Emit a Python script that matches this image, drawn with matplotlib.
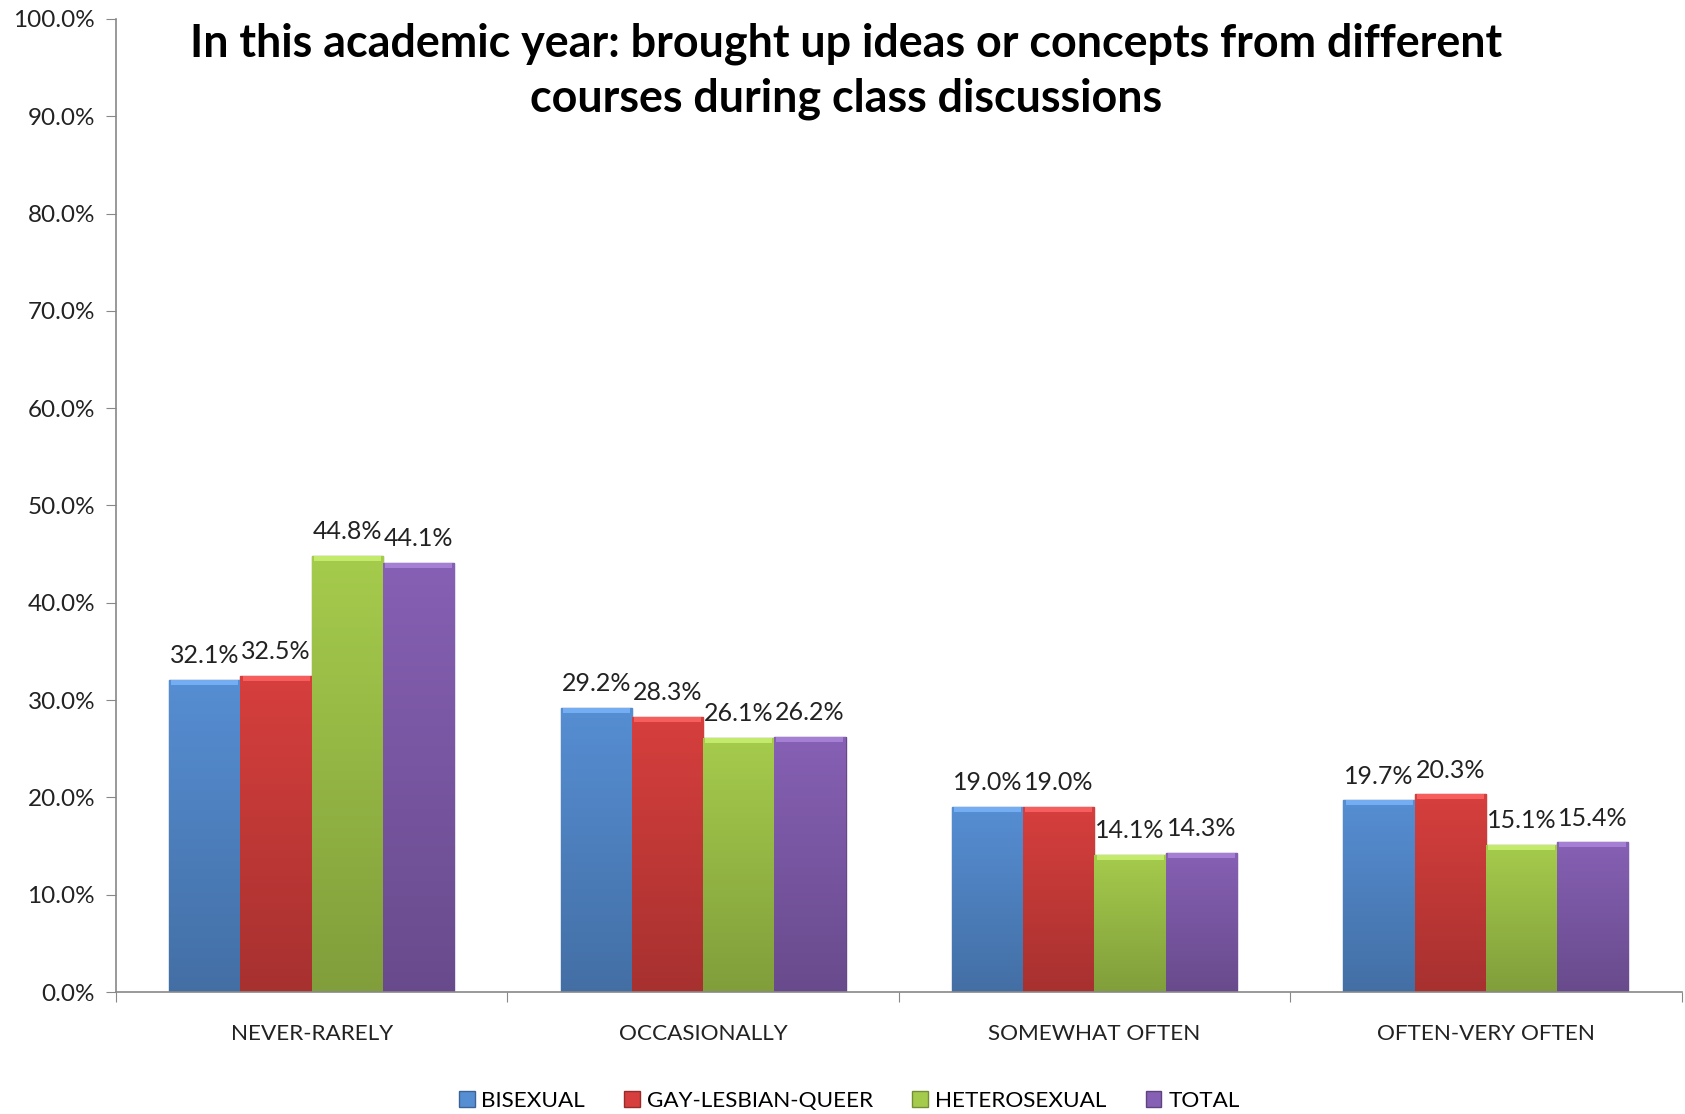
import numpy as np
import matplotlib
matplotlib.use("Agg")
import matplotlib.pyplot as plt
from matplotlib.patches import Patch
from matplotlib.colors import to_rgb

plt.rcParams['font.family'] = ['Lato', 'DejaVu Sans']

categories = ["NEVER-RARELY", "OCCASIONALLY", "SOMEWHAT OFTEN", "OFTEN-VERY OFTEN"]
series = ["BISEXUAL", "GAY-LESBIAN-QUEER", "HETEROSEXUAL", "TOTAL"]
bisexual = [32.1, 29.2, 19.0, 19.7]
gay_lesbian_queer = [32.5, 28.3, 19.0, 20.3]
heterosexual = [44.8, 26.1, 14.1, 15.1]
total = [44.1, 26.2, 14.3, 15.4]
colors = ["#568ED3", "#D63F3D", "#A5CB4C", "#8660B4"]
yticks = np.arange(0, 101, 10)

values = [bisexual, gay_lesbian_queer, heterosexual, total]

fig = plt.figure(figsize=(16.85, 11.14), dpi=100)
ax = fig.add_axes([0.0688, 0.1095, 0.9292, 0.8735])

bw = 0.182
x = np.arange(len(categories)) + 0.5


def darker(c, f):
    r, g, b = to_rgb(c)
    return (r * f, g * f, b * f)


for i, (vals, col) in enumerate(zip(values, colors)):
    pos = x + (i - 1.5) * bw
    bars = ax.bar(pos, vals, width=bw, color=col, edgecolor=darker(col, 0.75),
                  linewidth=1.0, zorder=2)
    for b, v in zip(bars, vals):
        # vertical shading: lighter at top, darker at bottom
        grad = np.linspace(1.0, 0.0, 64).reshape(-1, 1)
        c1 = np.array(to_rgb(col))
        c0 = np.array(darker(col, 0.78))
        img = c0 + (c1 - c0) * grad[..., None]
        im = ax.imshow(img, extent=[b.get_x(), b.get_x() + bw, 0, v],
                       aspect='auto', zorder=2.5, interpolation='bilinear')
        im.set_clip_path(b)
        # top highlight bevel
        ax.bar(b.get_x() + bw / 2, 0.5, bottom=v - 0.5, width=bw * 0.94,
               color=tuple(min(1, c + 0.12) for c in to_rgb(col)),
               linewidth=0, zorder=3)
        ax.text(b.get_x() + bw / 2, v + 1.3, f"{v:.1f}%", ha='center', va='bottom',
                fontsize=18, color="#222222", zorder=4)

ax.set_xlim(0, 4)
ax.set_ylim(0, 100)
ax.set_yticks(yticks)
ax.set_yticklabels([f"{t:.1f}%" for t in yticks], fontsize=17.5, color="#222222")
ax.set_xticks(np.arange(0, 5))
ax.set_xticklabels([])
ax.set_xticks(x, minor=True)
ax.set_xticklabels(categories, minor=True, fontsize=16.2, color="#222222")
ax.tick_params(axis='x', which='minor', length=0, pad=23)
ax.tick_params(axis='x', which='major', length=7, direction='out', color="#888888")
ax.tick_params(axis='y', length=7, direction='out', color="#888888", pad=8)
for s in ['top', 'right']:
    ax.spines[s].set_visible(False)
for s in ['left', 'bottom']:
    ax.spines[s].set_color("#888888")
    ax.spines[s].set_linewidth(1.2)

fig.text(0.502, 0.98, "In this academic year: brought up ideas or concepts from different\ncourses during class discussions",
         ha='center', va='top', fontsize=32.3, fontweight='bold', linespacing=1.38)

handles = [Patch(facecolor=c, edgecolor=darker(c, 0.7)) for c in colors]
fig.legend(handles, series, loc='center', bbox_to_anchor=(0.504, 0.0115), ncol=4,
           frameon=False, fontsize=16.2, handlelength=0.7, handleheight=0.7,
           handletextpad=0.3, columnspacing=1.75)

fig.savefig("out.png", dpi=100, facecolor='white')
